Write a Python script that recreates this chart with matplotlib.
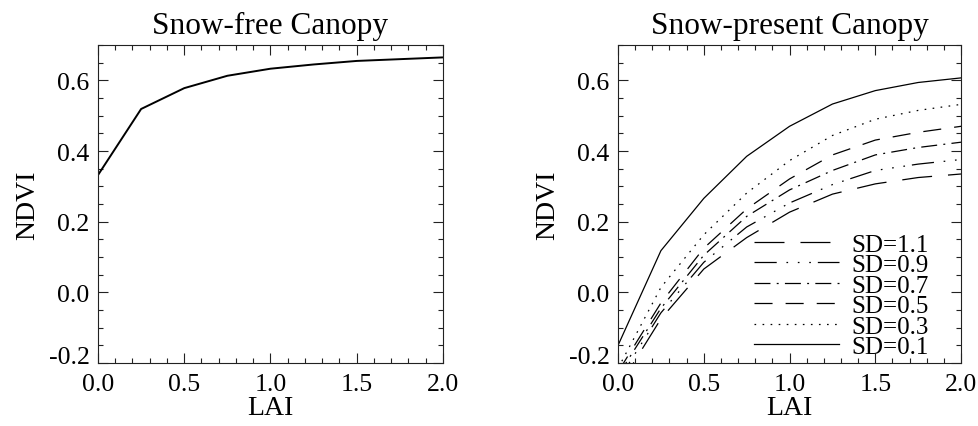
"""
NDVI versus LAI for a snow-free canopy and for canopies with snow of
several depths (SD), drawn as two side-by-side panels.
"""

import matplotlib

matplotlib.use("Agg")
import matplotlib.pyplot as plt
from matplotlib.ticker import FixedLocator, MultipleLocator, FormatStrFormatter

# LAI sample points shared by all curves
lai = [0.0, 0.25, 0.5, 0.75, 1.0, 1.25, 1.5, 1.75, 2.0]

# left panel: snow-free canopy
ndvi_free = [0.332, 0.519, 0.578, 0.613, 0.633, 0.645, 0.655, 0.660, 0.665]

# right panel: one curve per snow depth
sd_labels = ["SD=0.1", "SD=0.3", "SD=0.5", "SD=0.7", "SD=0.9", "SD=1.1"]
ndvi_sd01 = [-0.150, 0.118, 0.266, 0.385, 0.470, 0.533, 0.571, 0.594, 0.607]
ndvi_sd03 = [-0.215, 0.014, 0.163, 0.281, 0.373, 0.444, 0.490, 0.515, 0.532]
ndvi_sd05 = [-0.225, -0.030, 0.125, 0.236, 0.321, 0.389, 0.431, 0.453, 0.470]
ndvi_sd07 = [-0.235, -0.045, 0.105, 0.215, 0.290, 0.345, 0.389, 0.410, 0.425]
ndvi_sd09 = [-0.250, -0.058, 0.085, 0.185, 0.253, 0.305, 0.345, 0.363, 0.376]
ndvi_sd11 = [-0.270, -0.075, 0.066, 0.155, 0.227, 0.278, 0.307, 0.325, 0.335]

# IDL-like line styles, in points (dash scaling off)
STYLES = [
    "-",
    (0, (1.2, 4.6)),
    (0, (13, 9.4)),
    (0, (11.5, 4.5, 1.4, 4.5)),
    (0, (16, 7, 1.2, 7, 1.2, 7, 1.2, 5)),
    (0, (21.6, 11.5)),
]

plt.rcParams["font.family"] = ["Liberation Serif", "DejaVu Serif"]
plt.rcParams["axes.unicode_minus"] = False
plt.rcParams["lines.scale_dashes"] = False

FS = 18.5


def style_axes(ax, title):
    ax.set_xlim(0.0, 2.0)
    ax.set_ylim(-0.2, 0.7)
    ax.xaxis.set_major_locator(MultipleLocator(0.5))
    ax.xaxis.set_minor_locator(MultipleLocator(0.1))
    ax.yaxis.set_major_locator(FixedLocator([-0.2, 0.0, 0.2, 0.4, 0.6]))
    ax.yaxis.set_minor_locator(MultipleLocator(0.05))
    ax.xaxis.set_major_formatter(FormatStrFormatter("%.1f"))
    ax.yaxis.set_major_formatter(FormatStrFormatter("%.1f"))
    ax.tick_params(which="both", direction="in", top=True, right=True,
                   labelsize=FS, width=0.8, color="#222222")
    ax.tick_params(which="major", length=7)
    ax.tick_params(which="minor", length=3.5)
    ax.tick_params(axis="x", pad=7)
    ax.tick_params(axis="y", pad=6)
    for sp in ax.spines.values():
        sp.set_linewidth(0.8)
        sp.set_color("#222222")
    ax.set_title(title, fontsize=22.5, pad=9)
    ax.set_xlabel("LAI", fontsize=20, labelpad=0)
    ax.set_ylabel("NDVI", fontsize=20, labelpad=6)
    # bottom label sits on the axis line, as in the original
    ax.yaxis.get_major_ticks()[0].label1.set_verticalalignment("baseline")


fig = plt.figure(figsize=(9.79, 4.27), dpi=100)
ax1 = fig.add_axes([0.1001, 0.1475, 0.3524, 0.7447])
ax2 = fig.add_axes([0.6313, 0.1475, 0.3504, 0.7447])

ax1.plot(lai, ndvi_free, color="black", linewidth=1.4)
style_axes(ax1, "Snow-free Canopy")

series = [ndvi_sd01, ndvi_sd03, ndvi_sd05, ndvi_sd07, ndvi_sd09, ndvi_sd11]
handles = []
for vals, ls, lab in zip(series, STYLES, sd_labels):
    (ln,) = ax2.plot(lai, vals, color="black", linewidth=0.9, linestyle=ls, label=lab)
    handles.append(ln)
style_axes(ax2, "Snow-present Canopy")

ax2.legend(handles[::-1], sd_labels[::-1], loc="lower left",
           bbox_to_anchor=(0.382, 0.0), frameon=False, fontsize=18,
           handlelength=3.4, handletextpad=0.5, labelspacing=-0.08,
           borderpad=0.2, borderaxespad=0.0)

fig.savefig("out.png", dpi=100)
